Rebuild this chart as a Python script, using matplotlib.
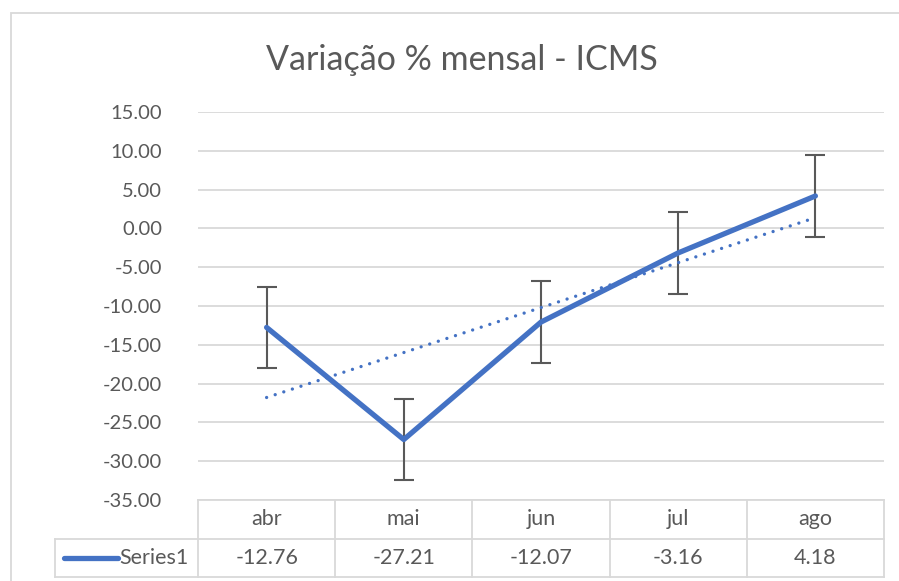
"""
plot.py - Variacao % mensal do ICMS (grafico de linha com tabela de dados)
"""

import numpy as np
import matplotlib
matplotlib.use("Agg")
import matplotlib.pyplot as plt
from matplotlib.lines import Line2D
from matplotlib.patches import Rectangle
from matplotlib.transforms import blended_transform_factory

# donnees
months = ["abr", "mai", "jun", "jul", "ago"]
values = [-12.76, -27.21, -12.07, -3.16, 4.18]
errors = [5.27, 5.27, 5.27, 5.27, 5.27]
series_name = "Series1"
title = "Variação % mensal - ICMS"
yticks = [15, 10, 5, 0, -5, -10, -15, -20, -25, -30, -35]

BLUE = "#4472C4"
GRID = "#d9d9d9"
TEXT = "#595959"
ERR = "#595959"

plt.rcParams.update({
    "font.family": ["Lato", "DejaVu Sans"],
    "font.size": 14.5,
})

W, H = 899, 581
fig = plt.figure(figsize=(W / 100, H / 100), dpi=100)


def fx(px):
    return px / W


def fy(py):
    return 1 - py / H


# cadre du graphique
fig.add_artist(Rectangle((fx(11), fy(590)), fx(920) - fx(11), fy(13) - fy(590),
                         transform=fig.transFigure, fill=False,
                         edgecolor=GRID, linewidth=1.3))

ax = fig.add_axes([fx(198), fy(500), fx(884) - fx(198), fy(112) - fy(500)])
x = np.arange(len(months))

ax.set_xlim(-0.5, len(months) - 0.5)
ax.set_ylim(-35, 15)
ax.set_yticks(yticks)
ax.set_yticklabels([f"{v:.2f}" for v in yticks], color=TEXT)
ax.tick_params(axis="y", length=0, pad=26)
ax.set_xticks([])
for s in ax.spines.values():
    s.set_visible(False)
ax.grid(axis="y", color=GRID, linewidth=1.3)
ax.set_axisbelow(True)

# serie + barres d'erreur
ax.errorbar(x, values, yerr=errors, fmt="none", ecolor=ERR, elinewidth=1.5,
            capsize=7, capthick=1.5, zorder=3)
ax.plot(x, values, color=BLUE, linewidth=3.8, solid_capstyle="round", zorder=4)

# tendance lineaire
coef = np.polyfit(x, values, 1)
ax.plot(x, np.polyval(coef, x), color=BLUE, linewidth=2.4,
        linestyle=(0, (0.01, 2.7)), dash_capstyle="round", zorder=4)

# tableau de donnees
tr = blended_transform_factory(ax.transData, ax.transAxes)
row1, row2, row3 = 0.0, -0.1005, -0.198
x_left = -1.542
x_right = len(months) - 0.5

lines = [
    ([-0.5, x_right], [row1, row1]),
    ([x_left, x_right], [row2, row2]),
    ([x_left, x_right], [row3, row3]),
    ([x_left, x_left], [row2, row3]),
]
for i in range(len(months) + 1):
    lines.append(([i - 0.5, i - 0.5], [row1, row3]))
for xs, ys in lines:
    ax.add_line(Line2D(xs, ys, transform=tr, color=GRID, linewidth=1.3,
                       clip_on=False))

for i, (m, v) in enumerate(zip(months, values)):
    ax.text(i, (row1 + row2) / 2, m, transform=tr, ha="center", va="center",
            color=TEXT, fontsize=15.5, clip_on=False)
    ax.text(i, (row2 + row3) / 2, f"{v:.2f}", transform=tr, ha="center",
            va="center", color=TEXT, fontsize=15.5, clip_on=False)

# cle de legende dans le tableau
fig.add_artist(Line2D([fx(64), fx(118)], [fy(558), fy(558)], color=BLUE,
                      linewidth=3.8, solid_capstyle="round"))
fig.text(fx(119), fy(558), series_name, ha="left", va="center", color=TEXT,
         fontsize=15.5)

fig.text(fx(462), fy(60), title, ha="center", va="center", color=TEXT,
         fontsize=24.5)

fig.savefig("out.png", dpi=100)
